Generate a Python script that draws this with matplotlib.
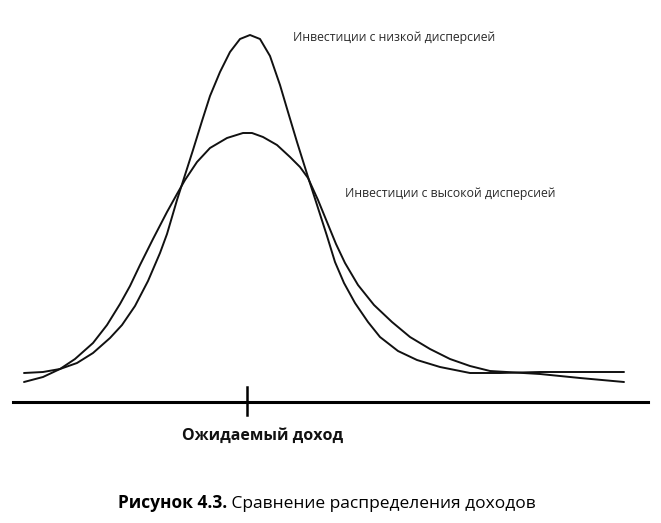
import matplotlib.pyplot as plt

plt.rcParams['font.family'] = ['Open Sans', 'DejaVu Sans']

BASE = 402  # pixel row of the horizontal axis in the source picture

# Curves (pixel column, pixel row)
low_x = [24, 43, 60, 77, 93, 110, 122, 135, 148, 160, 167, 177, 185, 193, 202, 210,
         220, 230, 240, 250, 260, 270, 280, 288, 297, 308, 318, 327, 335, 344, 355,
         368, 380, 398, 417, 440, 470, 500, 540, 580, 624]
low_row = [373, 372, 369, 363, 353, 338, 325, 306, 281, 253, 234, 200, 175, 150, 121, 96,
           72, 52, 39, 35, 39, 56, 85, 112, 142, 177, 208, 236, 262, 283, 303,
           322, 337, 351, 360, 367, 373, 373, 372, 372, 372]

high_x = [24, 43, 60, 75, 93, 107, 120, 130, 140, 153, 167, 177, 185, 197, 210, 227,
          243, 252, 263, 277, 290, 300, 308, 318, 327, 336, 345, 358, 374, 392, 410,
          430, 450, 470, 490, 540, 580, 624]
high_row = [382, 377, 369, 359, 343, 325, 304, 286, 265, 239, 212, 194, 180, 162, 148, 138,
            133, 133, 137, 145, 157, 167, 178, 200, 222, 244, 263, 285, 305, 322, 337,
            349, 359, 366, 371, 374, 378, 382]

# heights above the axis
low_y = [BASE - r for r in low_row]
high_y = [BASE - r for r in high_row]

axis_x = [13, 648]
expected_x = 247

low_label = 'Инвестиции с низкой дисперсией'
high_label = 'Инвестиции с высокой дисперсией'
axis_label = 'Ожидаемый доход'
fig_no = 'Рисунок 4.3.'
fig_title = ' Сравнение распределения доходов'

fig = plt.figure(figsize=(6.61, 5.23), dpi=100)
ax = fig.add_axes([0, 0, 1, 1])
ax.set_xlim(0, 661)
ax.set_ylim(BASE - 523, BASE)
ax.axis('off')

ax.plot(low_x, low_y, color='#111111', lw=1.4, solid_capstyle='round', solid_joinstyle='round')
ax.plot(high_x, high_y, color='#111111', lw=1.4, solid_capstyle='round', solid_joinstyle='round')

ax.plot(axis_x, [0, 0], color='black', lw=2.2)
ax.plot([expected_x, expected_x], [15, -13], color='black', lw=1.8)

ax.text(293, BASE - 38, low_label, fontsize=8.8, color='#2a2a2a', va='center', ha='left')
ax.text(345, BASE - 193, high_label, fontsize=8.8, color='#2a2a2a', va='center', ha='left')
ax.text(263, BASE - 436, axis_label, fontsize=11.5, fontweight='bold', color='#111111',
        va='center', ha='center')

t1 = ax.text(118, BASE - 503, fig_no, fontsize=12.5, fontweight='bold', color='black',
             va='center', ha='left')
ax.annotate(fig_title, xy=(1, 0), xycoords=t1, fontsize=12.5, color='black',
            va='bottom', ha='left')

fig.savefig('out.png', dpi=100)
